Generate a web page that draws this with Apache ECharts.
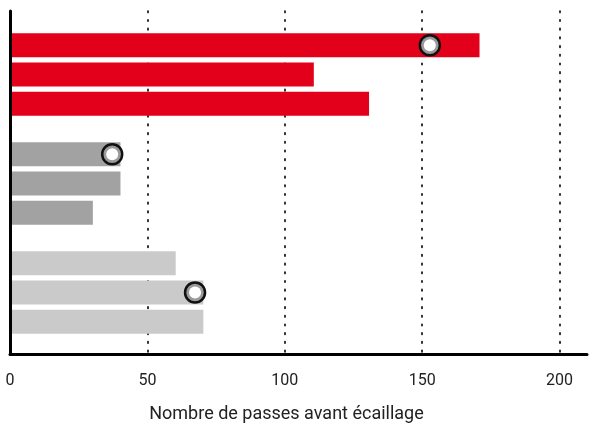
<!DOCTYPE html>
<html><head><meta charset="utf-8">
<script src="https://cdn.jsdelivr.net/npm/echarts@6/dist/echarts.min.js"></script>
<style>html,body{margin:0;padding:0;background:#fff}#c{width:590px;height:428px}</style>
</head><body><div id="c"></div>
<script>
// Groups, top to bottom
const groups = ['Groupe 1', 'Groupe 2', 'Groupe 3'];
const bar1 = [170, 40, 60];
const bar2 = [110, 40, 70];
const bar3 = [130, 30, 70];
const markerValues = [152, 37, 67];
const markerSlot = [0, 0, 1];
const groupColors = ['#e3001b', '#a2a2a2', '#cacaca'];
const xTicks = [0, 50, 100, 150, 200];
const axisTitle = 'Nombre de passes avant écaillage';

const X_MAX = 210;
const BAR_W = 24, BAR_GAP = 0.22;
const pitch = BAR_W * (1 + BAR_GAP);
const font = 'Roboto, "DejaVu Sans", sans-serif';

function barSeries(vals) {
  return {
    type: 'bar', xAxisIndex: 1, yAxisIndex: 1,
    barWidth: BAR_W, barGap: (BAR_GAP * 100) + '%',
    data: vals.map((v, i) => ({ value: v, itemStyle: { color: groupColors[i] } })),
    silent: true
  };
}
const markerData = markerValues.map((v, i) => ({
  value: [v, groups[i]], symbolOffset: [0, (markerSlot[i] - 1) * pitch]
}));

const chart = echarts.init(document.getElementById('c'), null, { renderer: 'canvas' });
chart.setOption({
  animation: false,
  grid: [
    { left: 10, right: 0, top: 11, bottom: 73 },
    { left: 10, right: 0, top: 20, bottom: 81 }
  ],
  xAxis: [{
    gridIndex: 0, type: 'value', min: xTicks[0], max: X_MAX, interval: xTicks[1] - xTicks[0],
    axisLine: { show: true, onZero: false, lineStyle: { color: '#000', width: 3 } },
    axisTick: { show: false },
    axisLabel: { color: '#222', fontFamily: font, fontSize: 16, margin: 19,
      formatter: v => xTicks.indexOf(v) >= 0 ? String(v) : '' },
    splitLine: { show: true, showMinLine: false, showMaxLine: false,
      lineStyle: { color: '#000', width: 1.6, type: [1.6, 7.1], cap: 'round' } },
    name: axisTitle, nameLocation: 'middle', nameGap: 51,
    nameTextStyle: { color: '#222', fontFamily: font, fontSize: 18, padding: [0, 24, 0, 0] }
  }, {
    gridIndex: 1, type: 'value', min: xTicks[0], max: X_MAX, show: false
  }],
  yAxis: [{
    gridIndex: 0, type: 'category', data: groups, z: 5,
    axisLine: { show: true, onZero: false, lineStyle: { color: '#000', width: 3 } },
    axisTick: { show: false }, axisLabel: { show: false }, splitLine: { show: false }
  }, {
    gridIndex: 1, type: 'category', data: groups, inverse: true, show: false
  }],
  series: [
    barSeries(bar1), barSeries(bar2), barSeries(bar3),
    { type: 'scatter', xAxisIndex: 1, yAxisIndex: 1, symbol: 'circle', symbolSize: 20, z: 6, silent: true,
      itemStyle: { color: '#9a9a9a', borderColor: '#111', borderWidth: 2.5, opacity: 1 },
      data: markerData },
    { type: 'scatter', xAxisIndex: 1, yAxisIndex: 1, symbol: 'circle', symbolSize: 12, z: 7, silent: true,
      itemStyle: { color: '#fff', opacity: 1 }, data: markerData }
  ]
});
</script>
</body></html>
